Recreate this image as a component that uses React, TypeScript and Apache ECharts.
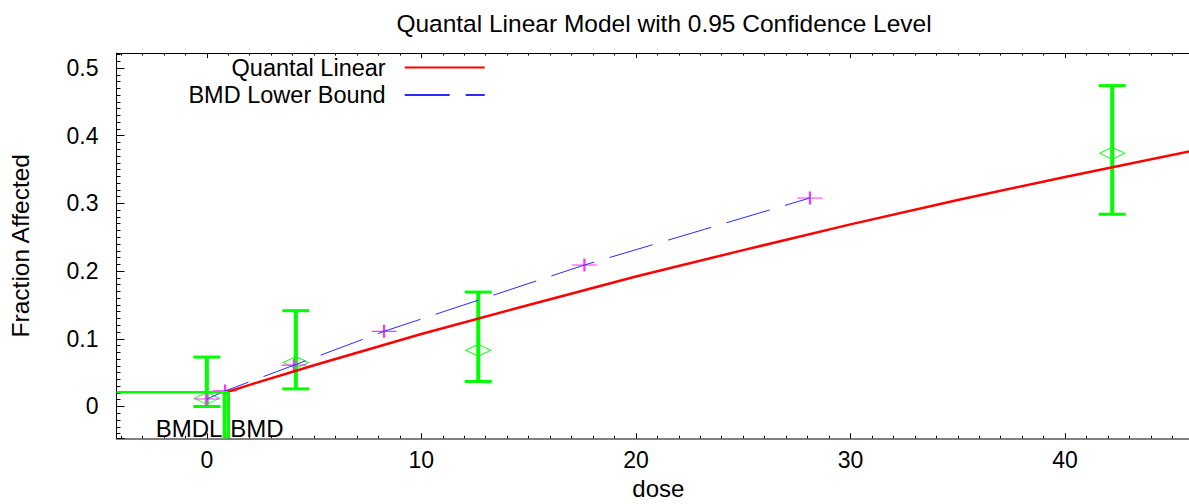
import { useEffect, useRef } from "react";
import * as echarts from "echarts";

// ---------- texts ----------
const TITLE = "Quantal Linear Model with 0.95 Confidence Level";
const X_NAME = "dose";
const Y_NAME = "Fraction Affected";
const MODEL_NAME = "Quantal Linear";
const BOUND_NAME = "BMD Lower Bound";
const BMD_LABELS = ["BMDL", "BMD"];

// ---------- axis ranges ----------
const X_MIN = -4.21;
const X_MAX = 46.3;
const Y_MIN = -0.047;
const Y_MAX = 0.522;
const X_MINOR_MIN = -4;
const X_MINOR_MAX = 46;
const X_MINOR_STEP = 1;
const Y_MINOR_MIN = -0.04;
const Y_MINOR_MAX = 0.52;
const Y_MINOR_STEP = 0.01;

// ---------- observed data ----------
const DOSES = [0, 4.15, 12.65, 42.2];
const OBSERVED = [0.012, 0.065, 0.083, 0.374];
const CI_LOWER = [0.0, 0.026, 0.037, 0.284];
const CI_UPPER = [0.073, 0.1415, 0.169, 0.474];

// ---------- model curve ----------
const MODEL_DOSE = [0.82, 2, 5, 10, 15, 20, 25, 30, 35, 40, 46.3];
const MODEL_FRAC = [0.0203, 0.032, 0.061, 0.107, 0.15, 0.192, 0.231, 0.269, 0.305, 0.339, 0.38];

// ---------- BMD lower bound line ----------
const BOUND_DOSE = [0, 0.85, 4.06, 8.26, 17.6, 28.11];
const BOUND_FRAC = [0.011, 0.023, 0.061, 0.111, 0.209, 0.308];

// ---------- BMD markers ----------
const BMR_LEVEL = 0.021;
const BMDL_VALUE = 0.82;
const BMD_VALUE = 1.0;

// ---------- layout (pixels) ----------
const GRID_LEFT = 116.5;
const GRID_TOP = 53.1;
const PX_PER_X = 21.455;
const PX_PER_Y = 677;
const LABEL_Y = -0.0328;

const FONT = "'Liberation Sans', Arial, Helvetica, sans-serif";
const GREEN = "#00ff00";
const RED = "#ff0000";
const BLUE = "#2a2aff";
const MAGENTA = "#ff33ff";

const gridAWidth = (X_MAX - X_MIN) * PX_PER_X;
const gridAHeight = (Y_MAX - Y_MIN) * PX_PER_Y;

const xTickFmt = (v: number) =>
  Math.abs(v / 10 - Math.round(v / 10)) < 1e-6 ? String(Math.round(v)) : "";
const yTickFmt = (v: number) =>
  Math.abs(v * 10 - Math.round(v * 10)) < 1e-6 ? String(Math.round(v * 10) / 10) : "";

function buildOption() {
  const obs = DOSES.map((d, i) => [d, OBSERVED[i]]);
  const bars = DOSES.map((d, i) => [d, CI_LOWER[i], CI_UPPER[i]]);
  const model = MODEL_DOSE.map((d, i) => [d, MODEL_FRAC[i]]);
  const bound = BOUND_DOSE.map((d, i) => [d, BOUND_FRAC[i]]);

  const textBase = { fontFamily: FONT, color: "#000" };
  const tickStyle = { color: "#000", width: 1 };

  return {
    animation: false,
    backgroundColor: "#fff",
    title: {
      text: TITLE,
      left: 664,
      top: 10.5,
      textAlign: "center",
      padding: 0,
      textStyle: { ...textBase, fontSize: 24.5, fontWeight: "normal" },
    },
    legend: {
      data: [MODEL_NAME, BOUND_NAME],
      orient: "vertical",
      align: "right",
      right: 1189 - 485.7,
      top: 55.5,
      padding: 0,
      itemGap: 3.5,
      itemWidth: 80,
      itemHeight: 14,
      selectedMode: false,
      itemStyle: { color: "rgba(0,0,0,0)", borderColor: "rgba(0,0,0,0)", borderWidth: 0 },
      textStyle: { ...textBase, fontSize: 23.5, lineHeight: 23, padding: [0, 14, 0, 0] },
    },
    grid: [
      { left: GRID_LEFT, top: GRID_TOP, width: gridAWidth, height: gridAHeight, outerBoundsMode: "none" },
      {
        left: GRID_LEFT + (X_MINOR_MIN - X_MIN) * PX_PER_X,
        top: GRID_TOP,
        width: (X_MINOR_MAX - X_MINOR_MIN) * PX_PER_X,
        height: gridAHeight,
        outerBoundsMode: "none",
      },
      {
        left: GRID_LEFT,
        top: GRID_TOP + (Y_MAX - Y_MINOR_MAX) * PX_PER_Y,
        width: gridAWidth,
        height: (Y_MINOR_MAX - Y_MINOR_MIN) * PX_PER_Y,
        outerBoundsMode: "none",
      },
    ],
    xAxis: [
      {
        gridIndex: 0,
        type: "value",
        position: "bottom",
        min: X_MIN,
        max: X_MAX,
        splitNumber: 5,
        axisLine: { show: true, onZero: false, lineStyle: { color: "#808080", width: 2 } },
        axisTick: { show: true, inside: true, length: 5, lineStyle: tickStyle },
        axisLabel: { ...textBase, fontSize: 23, margin: 10, formatter: xTickFmt },
        splitLine: { show: false },
        name: X_NAME,
        nameLocation: "middle",
        nameGap: 27,
        nameTextStyle: { ...textBase, fontSize: 24 },
      },
      {
        gridIndex: 0,
        type: "value",
        position: "top",
        min: X_MIN,
        max: X_MAX,
        splitNumber: 5,
        axisLine: { show: true, onZero: false, lineStyle: { color: "#000", width: 1 } },
        axisTick: { show: true, inside: true, length: 5, lineStyle: tickStyle },
        axisLabel: { show: false },
        splitLine: { show: false },
      },
      {
        gridIndex: 1,
        type: "value",
        position: "bottom",
        min: X_MINOR_MIN,
        max: X_MINOR_MAX,
        interval: X_MINOR_STEP,
        axisLine: { show: false, onZero: false },
        axisTick: { show: true, inside: true, length: 2.5, lineStyle: tickStyle },
        axisLabel: { show: false },
        splitLine: { show: false },
      },
      {
        gridIndex: 1,
        type: "value",
        position: "top",
        min: X_MINOR_MIN,
        max: X_MINOR_MAX,
        interval: X_MINOR_STEP,
        axisLine: { show: false, onZero: false },
        axisTick: { show: true, inside: true, length: 2.5, lineStyle: tickStyle },
        axisLabel: { show: false },
        splitLine: { show: false },
      },
      { gridIndex: 2, type: "value", show: false, min: 0, max: 1, axisLine: { onZero: false } },
    ],
    yAxis: [
      {
        gridIndex: 0,
        type: "value",
        position: "left",
        min: Y_MIN,
        max: Y_MAX,
        splitNumber: 5,
        axisLine: { show: true, onZero: false, lineStyle: { color: "#000", width: 1 } },
        axisTick: { show: true, inside: true, length: 8, lineStyle: tickStyle },
        axisLabel: { ...textBase, fontSize: 23, margin: 18, formatter: yTickFmt },
        splitLine: { show: false },
        name: Y_NAME,
        nameLocation: "middle",
        nameGap: 84,
        nameRotate: 90,
        nameTextStyle: { ...textBase, fontSize: 24.5 },
      },
      { gridIndex: 1, type: "value", show: false, min: 0, max: 1, axisLine: { onZero: false } },
      {
        gridIndex: 2,
        type: "value",
        position: "left",
        min: Y_MINOR_MIN,
        max: Y_MINOR_MAX,
        interval: Y_MINOR_STEP,
        axisLine: { show: false, onZero: false },
        axisTick: { show: true, inside: true, length: 4, lineStyle: tickStyle },
        axisLabel: { show: false },
        splitLine: { show: false },
      },
    ],
    series: [
      {
        name: MODEL_NAME,
        type: "line",
        xAxisIndex: 0,
        yAxisIndex: 0,
        data: model,
        symbol: "none",
        smooth: false,
        lineStyle: { color: RED, width: 2.5 },
        itemStyle: { color: RED },
        silent: true,
      },
      {
        name: BOUND_NAME,
        type: "line",
        xAxisIndex: 0,
        yAxisIndex: 0,
        data: bound,
        symbol: "none",
        lineStyle: { color: BLUE, width: 1, type: [45, 16] },
        itemStyle: { color: BLUE },
        silent: true,
      },
      {
        type: "custom",
        xAxisIndex: 0,
        yAxisIndex: 0,
        data: bars,
        encode: { x: 0, y: [1, 2] },
        silent: true,
        renderItem: (_p: any, api: any) => {
          const x = api.value(0);
          const top = api.coord([x, api.value(2)]);
          const bot = api.coord([x, api.value(1)]);
          const half = 13.5;
          return {
            type: "group",
            children: [
              { type: "line", shape: { x1: top[0], y1: top[1], x2: bot[0], y2: bot[1] }, style: { stroke: GREEN, lineWidth: 4 } },
              { type: "line", shape: { x1: top[0] - half, y1: top[1], x2: top[0] + half, y2: top[1] }, style: { stroke: GREEN, lineWidth: 3 } },
              { type: "line", shape: { x1: bot[0] - half, y1: bot[1], x2: bot[0] + half, y2: bot[1] }, style: { stroke: GREEN, lineWidth: 3 } },
            ],
          };
        },
      },
      {
        type: "line",
        xAxisIndex: 0,
        yAxisIndex: 0,
        data: [[X_MIN, BMR_LEVEL], [BMD_VALUE, BMR_LEVEL]],
        symbol: "none",
        lineStyle: { color: GREEN, width: 2.5 },
        silent: true,
      },
      {
        type: "line",
        xAxisIndex: 0,
        yAxisIndex: 0,
        data: [[BMDL_VALUE, BMR_LEVEL], [BMDL_VALUE, Y_MIN]],
        symbol: "none",
        lineStyle: { color: GREEN, width: 3.5 },
        silent: true,
      },
      {
        type: "line",
        xAxisIndex: 0,
        yAxisIndex: 0,
        data: [[BMD_VALUE, BMR_LEVEL], [BMD_VALUE, Y_MIN]],
        symbol: "none",
        lineStyle: { color: GREEN, width: 3.5 },
        silent: true,
      },
      {
        type: "scatter",
        xAxisIndex: 0,
        yAxisIndex: 0,
        data: obs,
        symbol: "diamond",
        symbolSize: [25, 12],
        itemStyle: { color: "rgba(0,0,0,0)", borderColor: GREEN, borderWidth: 1, opacity: 1 },
        silent: true,
      },
      {
        type: "scatter",
        xAxisIndex: 0,
        yAxisIndex: 0,
        data: bound,
        symbol: "path://M0,6.5L25,6.5M12.5,0L12.5,13",
        symbolSize: [25, 13],
        itemStyle: { color: MAGENTA, borderColor: MAGENTA, borderWidth: 1.6, opacity: 1 },
        silent: true,
      },
      {
        type: "scatter",
        xAxisIndex: 0,
        yAxisIndex: 0,
        data: [
          { value: [BMDL_VALUE, LABEL_Y], label: { position: "left", formatter: BMD_LABELS[0] } },
          { value: [BMD_VALUE, LABEL_Y], label: { position: "right", formatter: BMD_LABELS[1] } },
        ],
        symbolSize: 0.1,
        itemStyle: { color: "rgba(0,0,0,0)", opacity: 1 },
        label: { show: true, distance: 2, ...textBase, fontSize: 24, opacity: 1 },
        silent: true,
      },
    ],
  };
}

export default function App() {
  const ref = useRef<HTMLDivElement>(null);
  useEffect(() => {
    if (!ref.current) return;
    const chart = echarts.init(ref.current, null, { renderer: "svg" });
    chart.setOption(buildOption() as any);
    return () => chart.dispose();
  }, []);
  return (
    <div
      ref={ref}
      style={{ position: "absolute", left: 0, top: 0, width: 1189, height: 504, background: "#fff" }}
    />
  );
}
